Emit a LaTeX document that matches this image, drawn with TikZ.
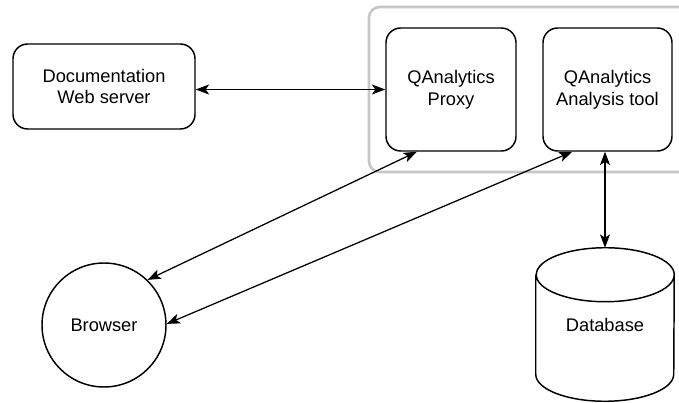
\documentclass[tikz,border=0pt]{standalone}
\usepackage{fontspec}
\setmainfont{Liberation Sans}
\usetikzlibrary{arrows.meta,calc}

\tikzset{
  box/.style={draw=black, line width=1.1pt, rounded corners=11pt, align=center,
    inner sep=0pt, font=\fontsize{13.7}{16.3}\selectfont},
  roundnode/.style={draw=black, line width=1.1pt, circle, align=center,
    inner sep=0pt, font=\fontsize{13.7}{16.3}\selectfont},
  plainlabel/.style={align=center, inner sep=0pt, font=\fontsize{13.7}{16.3}\selectfont},
  group/.style={draw=black!22, line width=2pt, rounded corners=8pt},
  link/.style={line width=0.95pt, {Stealth[length=10pt,width=7.5pt,inset=2.5pt]}-{Stealth[length=10pt,width=7.5pt,inset=2.5pt]}},
}

\begin{document}
\begin{tikzpicture}[x=0.75pt, y=-0.75pt]
  \clip (0,0) rectangle (679,403);

  % grouping frame around the QAnalytics services (runs off the right edge)
  \draw[group] (369,7) rectangle (720,172);

  % nodes
  \node[box, minimum width=136.5pt, minimum height=63.75pt] (doc) at (104,86.5)
    {Documentation\\Web server};
  \node[box, minimum width=97.5pt, minimum height=92.25pt] (proxy) at (451,89.5)
    {QAnalytics\\Proxy};
  \node[box, minimum width=96.75pt, minimum height=92.25pt] (tool) at (607.5,89.5)
    {QAnalytics\\Analysis tool};
  \node[roundnode, minimum size=93pt] (browser) at (104,325) {Browser};

  % database cylinder
  \node[plainlabel, minimum width=103.5pt, minimum height=114.75pt] (db) at (605,324.5) {Database};
  \draw[line width=1.1pt]
    ($(db.north west)+(0,27)$) -- ($(db.south west)+(0,-27)$)
    arc[start angle=180, end angle=0, x radius=69, y radius=27]
    -- ($(db.north east)+(0,27)$)
    arc[start angle=0, end angle=-180, x radius=69, y radius=27]
    arc[start angle=180, end angle=-180, x radius=69, y radius=27];

  % connectors
  \draw[link] (proxy.west -| doc.east) -- (proxy.west);
  \draw[link] ($(proxy.south west)!0.24!(proxy.south east)$) -- (browser.46);
  \draw[link] ($(tool.south west)!0.23!(tool.south east)$) -- (browser.1);
  \draw[link] (db.north |- tool.south) -- (db.north);
\end{tikzpicture}
\end{document}
